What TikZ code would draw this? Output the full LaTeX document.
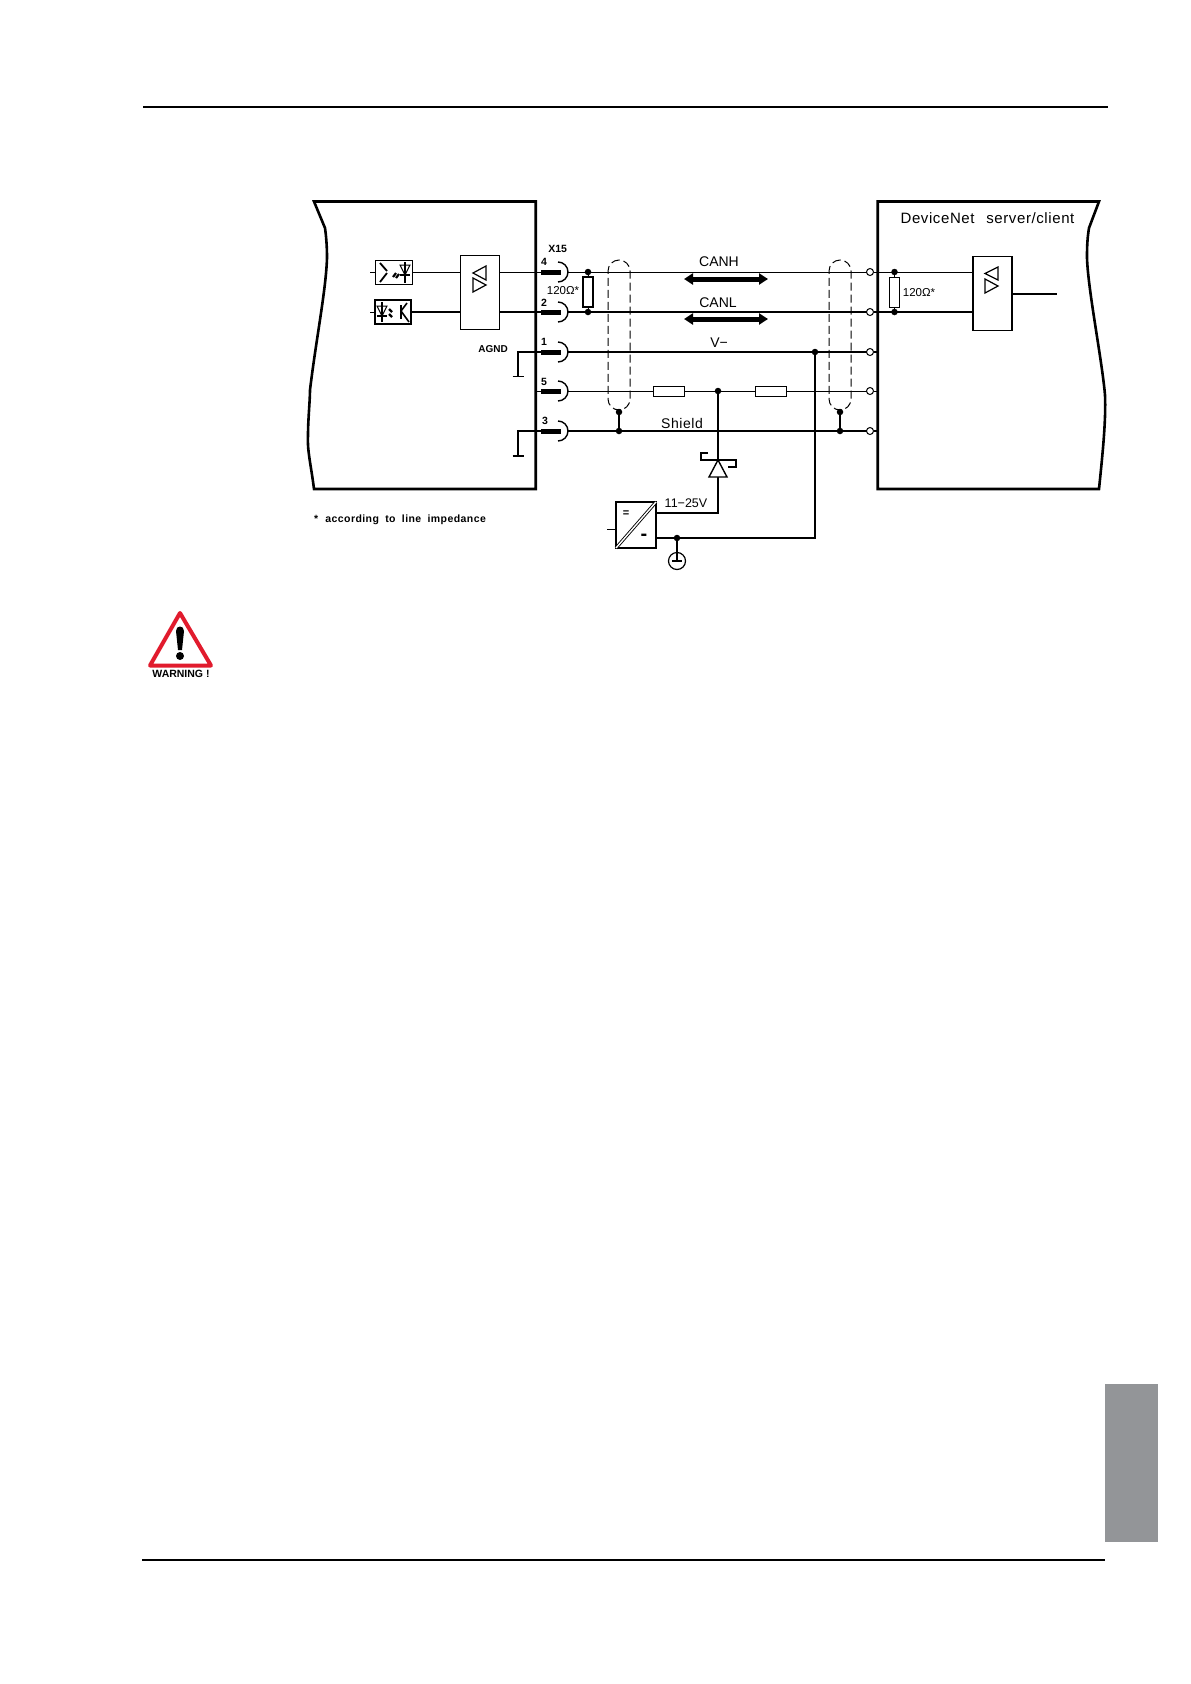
\documentclass[tikz,border=0pt]{standalone}
\usepackage{fontspec}
\setmainfont{Liberation Sans}
\newfontfamily\widefont[LetterSpace=4]{Liberation Sans}
\usetikzlibrary{arrows.meta}
\definecolor{tabgray}{HTML}{939598}
\definecolor{warnred}{HTML}{E11B2D}
\begin{document}
\begin{tikzpicture}[x=1pt,y=-1pt,inner sep=0pt,outer sep=0pt,line width=1pt,
sysblock/.style={draw,rectangle,fill=white,minimum width=39pt,minimum height=74pt},
optoblock/.style={draw,rectangle,minimum width=37pt,minimum height=24pt},
pinbar/.style={rectangle,fill=black,minimum width=20pt,minimum height=5pt},
term/.style={draw,circle,fill=white,minimum size=7pt,line width=1pt},
jdot/.style={circle,fill=black,minimum size=6.5pt},
resist/.style={draw,rectangle,fill=white,minimum width=10pt,minimum height=30pt},
fuse/.style={draw,rectangle,fill=white,minimum width=31pt,minimum height=10pt},
shieldbox/.style={draw,rectangle,dash pattern=on 8pt off 4pt,rounded corners=11pt,line width=1pt,minimum width=22pt,minimum height=150pt},
thinwire/.style={line width=1pt},
heavywire/.style={line width=2pt},
wall/.style={line width=2.6pt,line join=miter},
busarrow/.style={line width=5pt,{Triangle[length=9pt,width=11pt]}-{Triangle[length=9pt,width=11pt]}},
lbl/.style={font=\fontsize{14}{14}\selectfont},
smalllbl/.style={font=\bfseries\fontsize{10.5}{10.5}\selectfont}]

\useasboundingbox (0,0) rectangle (1191,1684);

% page furniture
\draw[line width=2pt] (143,106.5) -- (1108,106.5);
\draw[line width=2pt] (142,1560) -- (1105,1560);
\fill[tabgray] (1105,1384) rectangle (1158,1542);

% warning sign
\draw[warnred,fill=white,line width=4pt,line join=round] (180,613) -- (211,665.5) -- (150,665.5) -- cycle;
\fill (176,631) .. controls (176,625) and (184,625) .. (184,631) -- (182,650) -- (178,650) -- cycle;
\fill (180,656) circle (4);
\draw (181,674) node[font=\bfseries\fontsize{10.5}{10.5}\selectfont] (warn) {WARNING !};

% the two devices
\draw[wall] (314,489) .. controls (311,465) and (307,450) .. (308,435) .. controls (308,420) and (310,400) .. (310,390) .. controls (316,340) and (326,290) .. (327,258) .. controls (327,245) and (326,235) .. (325,228) -- (314,201.5) -- (535.7,201.5) -- (535.7,489) -- cycle;
\draw[wall] (877.7,201.5) -- (1099,201.5) -- (1089,228) .. controls (1087,240) and (1087,250) .. (1087,258) .. controls (1088,290) and (1102,360) .. (1105,395) .. controls (1106,420) and (1103,450) .. (1099,489) -- (877.7,489) -- cycle;
\coordinate (wallL) at (535.7,0);
\coordinate (wallR) at (877.7,0);

% left side
\draw (394,272) node[optoblock] (optoA) {};
\draw (392.5,312) node[optoblock,minimum width=36pt,line width=2pt] (optoB) {};
\draw (479.5,292) node[sysblock] (drvL) {};
\draw[thinwire] (optoA.west) -- ++(-6,0);
\draw[thinwire] (optoB.west) -- ++(-5,0);
\draw[thinwire] (optoA.east) -- (optoA.east -| drvL.west);
\draw[heavywire] (optoB.east) -- (optoB.east -| drvL.west);
\draw[line width=1.2pt] (486,266) -- (473,273) -- (486,280) -- cycle;
\draw[line width=1.2pt] (473,278) -- (486,285) -- (473,292) -- cycle;

% opto symbols
\draw[line width=1.8pt] (380,263) -- (387,271);
\draw[line width=1.8pt] (387,273) -- (380,282);
\draw[line width=1.2pt] (405,262) -- (405,283);
\draw (400,265) -- (410,265) -- (405,275) -- cycle;
\draw[line width=1.4pt] (400,275) -- (410,275);
\draw[line width=2.2pt] (393,277) -- (396,273);
\draw[line width=2.2pt] (396,278) -- (399,274);
\draw[line width=1.2pt] (382,302) -- (382,322);
\draw (377,306) -- (387,306) -- (382,316) -- cycle;
\draw[line width=1.4pt] (377,316) -- (387,316);
\draw[line width=2.2pt] (389,309) -- (392,312);
\draw[line width=2.2pt] (389,314) -- (392,317);
\draw[line width=2pt] (401,305) -- (401,319);
\draw[line width=1.6pt] (407,303) -- (401,311) -- (409,322);

% pins
\draw (551,272) node[pinbar] (p4) {};
\draw (551,312) node[pinbar] (p2) {};
\draw (551,352) node[pinbar] (p1) {};
\draw (551,391) node[pinbar] (p5) {};
\draw (551,431) node[pinbar] (p3) {};
\coordinate (j4) at (568,272);
\coordinate (j2) at (568,312);
\coordinate (j1) at (568,352);
\coordinate (j5) at (568,391);
\coordinate (j3) at (568,431);
\draw[heavywire,line width=1.4pt] (j4) ++(-10,-10) to[out=0,in=90] (j4) to[out=-90,in=0] ++(-10,10);
\draw[heavywire,line width=1.4pt] (j2) ++(-10,-10) to[out=0,in=90] (j2) to[out=-90,in=0] ++(-10,10);
\draw[heavywire,line width=1.4pt] (j1) ++(-10,-10) to[out=0,in=90] (j1) to[out=-90,in=0] ++(-10,10);
\draw[heavywire,line width=1.4pt] (j5) ++(-10,-10) to[out=0,in=90] (j5) to[out=-90,in=0] ++(-10,10);
\draw[heavywire,line width=1.4pt] (j3) ++(-10,-10) to[out=0,in=90] (j3) to[out=-90,in=0] ++(-10,10);
\draw (544,262) node[smalllbl] (n4) {4};
\draw (544,303) node[smalllbl] (n2) {2};
\draw (544,342) node[smalllbl] (n1) {1};
\draw (544,382) node[smalllbl] (n5) {5};
\draw (545,421) node[smalllbl] (n3) {3};
\draw (557.7,249) node[smalllbl] (x15) {X15};
\draw (563,291) node[font=\fontsize{11.5}{11.5}\selectfont] (ohmL) {120Ω*};
\draw (493,349) node[font=\bfseries\fontsize{10}{10}\selectfont] (agnd) {AGND};
\draw[thinwire] (drvL.east |- p4) -- (p4.west);
\draw[heavywire] (drvL.east |- p2) -- (p2.west);
\draw[thinwire] (p5.west) -- (p5 -| wallL);

% local grounds
\draw (518,376) node[minimum width=11pt] (gndA) {};
\draw (518,456) node[minimum width=11pt] (gndB) {};
\draw[heavywire,line width=1.5pt] (p1.west) -| (gndA.center);
\draw[heavywire,line width=1.5pt] (p3.west) -| (gndB.center);
\draw (gndA.west) -- (gndA.east);
\draw[line width=1.5pt] (gndB.west) -- (gndB.east);

% right side
\draw (870,272) node[term] (t4) {};
\draw (870,312) node[term] (t2) {};
\draw (870,352) node[term] (t1) {};
\draw (870,391) node[term] (t5) {};
\draw (870,431) node[term] (t3) {};
\draw (992.5,293.5) node[sysblock,line width=1.8pt] (drvR) {};
\draw[thinwire] (t4.east) -- (t4 -| drvR.west);
\draw[heavywire] (t2.east) -- (t2 -| drvR.west);
\draw[heavywire] (t1.east) -- (t1 -| wallR);
\draw[thinwire] (t5.east) -- (t5 -| wallR);
\draw[heavywire] (t3.east) -- (t3 -| wallR);
\coordinate (out) at (1057,293.5);
\draw[heavywire] (drvR.east) -- (out);
\draw[line width=1.2pt] (998,267) -- (985,273.5) -- (998,280) -- cycle;
\draw[line width=1.2pt] (985,279) -- (998,286) -- (985,293) -- cycle;
\draw (919,293) node[font=\fontsize{11.5}{11.5}\selectfont] (ohmR) {120Ω*};
\draw (987.5,218) node[font=\widefont\fontsize{15}{15}\selectfont] (devnet) {DeviceNet\hspace{7pt} server/client};

% bus lines
\draw[thinwire] (j4) -- (t4.west);
\draw[heavywire] (j2) -- (t2.west);
\draw[heavywire] (j1) -- (t1.west);
\draw[heavywire] (j3) -- (t3.west);
\draw (669,391) node[fuse] (fuseA) {};
\draw (770.5,391) node[fuse] (fuseB) {};
\draw (718,391) node[jdot] (dotF) {};
\draw[thinwire] (j5) -- (fuseA.west);
\draw[thinwire] (fuseA.east) -- (fuseB.west);
\draw[thinwire] (fuseB.east) -- (t5.west);

% terminating resistors
\draw (588,292) node[resist,line width=1.4pt] (resL) {};
\draw (894.5,292) node[resist] (resR) {};
\draw (resL.north |- j4) node[jdot] (dotLH) {};
\draw (resL.south |- j2) node[jdot] (dotLL) {};
\draw (resR.north |- t4) node[jdot] (dotRH) {};
\draw (resR.south |- t2) node[jdot] (dotRL) {};
\draw (dotLH) -- (resL.north);
\draw (dotLL) -- (resL.south);
\draw (dotRH) -- (resR.north);
\draw (dotRL) -- (resR.south);

% shields
\draw (619,335) node[shieldbox] (shL) {};
\draw (840,335) node[shieldbox] (shR) {};
\draw (619,412) node[jdot] (dotSL) {};
\draw (840,412) node[jdot] (dotSR) {};
\draw (619,431) node[jdot] (dotTL) {};
\draw (840,431) node[jdot] (dotTR) {};
\draw[heavywire] (dotSL) -- (dotTL);
\draw[heavywire] (dotSR) -- (dotTR);

% signals
\coordinate (canhA) at (684,279);
\coordinate (canhB) at (768,279);
\coordinate (canlA) at (684,319);
\coordinate (canlB) at (768,319);
\draw[busarrow] (canhA) -- (canhB);
\draw[busarrow] (canlA) -- (canlB);
\draw (719,262) node[lbl] (canh) {CANH};
\draw (718,303) node[lbl] (canl) {CANL};
\draw (719,343) node[lbl] (vminus) {V−};
\draw (682,423) node[font=\widefont\fontsize{14}{14}\selectfont] (shield) {Shield};

% supply
\draw (636,525) node[draw,rectangle,minimum width=40pt,minimum height=46pt,line width=1.4pt] (conv) {};
\draw[double,double distance=1.4pt,line width=.9pt] (conv.south west) -- (conv.north east);
\draw (626,514) node[font=\bfseries\fontsize{11}{11}\selectfont] (convplus) {=};
\draw (644,537) node[font=\bfseries\fontsize{20}{20}\selectfont] (convminus) {-};
\draw (686,503) node[font=\fontsize{12.5}{12.5}\selectfont] (volt) {11−25V};
\draw[thinwire] (conv.west |- 0,529) -- ++(-9,0);
\draw (718,477) node (zener) {};
\draw (815,352) node[jdot] (dotV) {};
\draw (677,538) node[jdot] (dotG) {};
\draw[heavywire] (dotF) -- (zener.center) -- (718,513) -- (conv.east |- 0,513);
\draw[heavywire] (dotV) -- (815,538) -- (conv.east |- 0,538);
\draw[line width=1.4pt,fill=white] (718,460) -- (727,477) -- (709,477) -- cycle;
\draw[line width=1.4pt] (708,453) -- (701,453) -- (701,460) -- (736,460) -- (736,467) -- (728,467);
\draw (677,561) node[draw,circle,minimum size=17pt,line width=1.2pt] (gndC) {};
\draw[heavywire] (dotG) -- (gndC.center);
\draw[line width=2.6pt] (672,561) -- (682,561);

% footnote
\draw (314,520) node[anchor=west,font=\widefont\bfseries\fontsize{10.5}{10.5}\selectfont] (note) {*\hspace{4pt} according\hspace{3pt} to\hspace{3pt} line\hspace{3pt} impedance};
\end{tikzpicture}
\end{document}
